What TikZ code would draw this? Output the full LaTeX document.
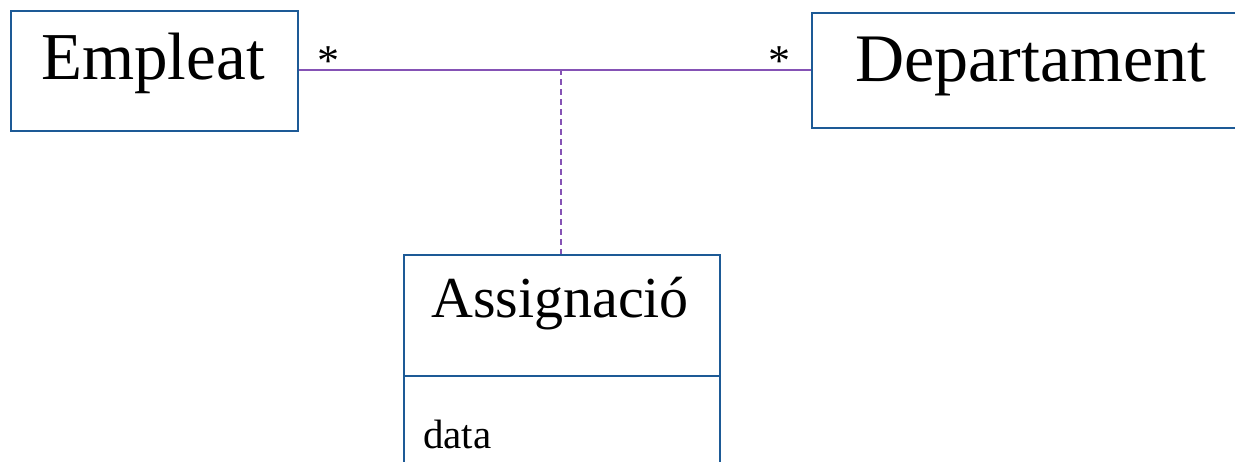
\documentclass[tikz,border=0pt]{standalone}
\usepackage{fontspec}
\setmainfont{Liberation Serif}
\definecolor{boxblue}{HTML}{1D5A96}
\definecolor{assocpurple}{HTML}{8552B5}
\begin{document}
\begin{tikzpicture}[x=1pt,y=-1pt,
  cls/.style={draw=boxblue,line width=2pt,inner sep=0pt,rectangle,anchor=north west},
  lbl/.style={inner sep=0pt,anchor=base},
  assoc/.style={draw=assocpurple,line width=1.8pt},
  mult/.style={inner sep=0pt,anchor=north,font=\fontsize{44}{44}\selectfont}]
\useasboundingbox (0,0) rectangle (1235,461);
\clip (0,0) rectangle (1235,461);
% class boxes
\node[cls,minimum width=287pt,minimum height=120pt] (emp) at (10,10) {};
\node[cls,minimum width=460pt,minimum height=115pt] (dep) at (811,12) {};
\node[cls,minimum width=316pt,minimum height=121pt] (asg) at (403,254) {};
\node[cls,minimum width=316pt,minimum height=140pt] (asgattr) at (403,375) {};
% labels
\node[lbl,font=\fontsize{67}{67}\selectfont] (empt) at (153,79) {Empleat};
\node[lbl,font=\fontsize{68}{68}\selectfont] (dept) at (1031,81) {Departament};
\node[lbl,font=\fontsize{58}{58}\selectfont] (asgt) at (560,317) {Assignació};
\node[inner sep=0pt,anchor=base west,font=\fontsize{41}{41}\selectfont] (attr) at (423,448) {data};
% association
\coordinate (empe) at ([yshift=1pt]emp.east);
\coordinate (depw) at (dep.west |- empe);
\draw[assoc] (empe) -- (depw);
\coordinate (mid) at (561,69);
\draw[assoc,dashed,dash pattern=on 6pt off 4pt,line width=1.6pt] (mid) -- (asg.north -| mid);
\node[mult] (m1) at (328,46) {*};
\node[mult] (m2) at (779,46) {*};
\end{tikzpicture}
\end{document}
